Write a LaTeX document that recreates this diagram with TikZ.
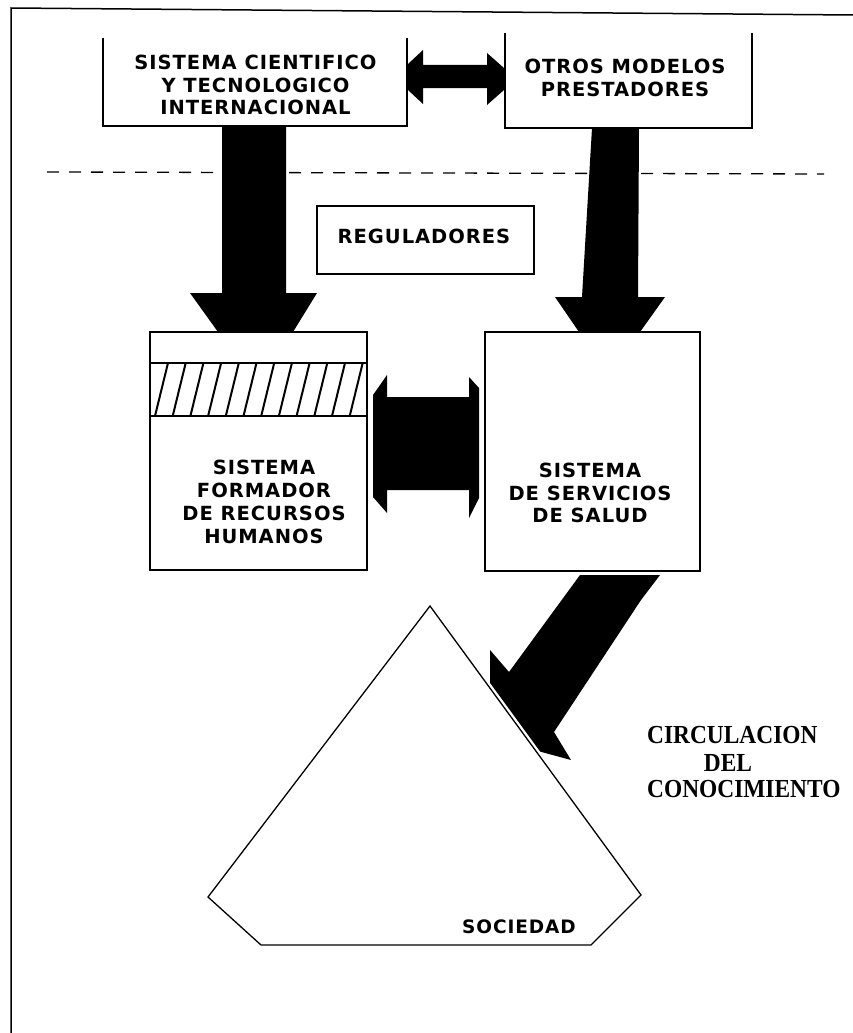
\documentclass[tikz,border=0pt]{standalone}
\usepackage{fontspec}
\newfontfamily\labfont[LetterSpace=5]{DejaVu Sans}
\newfontfamily\serfont{Liberation Serif}
\newcommand{\narrowtxt}[1]{\scalebox{0.9}[1]{#1}}
\begin{document}
\begin{tikzpicture}[x=1pt,y=-1pt,
  lab/.style={font=\labfont\bfseries\fontsize{19.5}{22.8}\selectfont, align=center, inner sep=0pt},
  circ/.style={font=\serfont\bfseries\fontsize{26}{28}\selectfont, inner sep=0pt},
  ln/.style={line width=1.5pt, line join=miter},
  blk/.style={fill=black, draw=none},
  boxarea/.style={inner sep=0pt, outer sep=0pt}]
\useasboundingbox (0,0) rectangle (853,1033);
% frame
\draw[ln] (11,1033) -- (11,8) -- (853,15);
% dashed line
\draw[line width=1.3pt, dash pattern=on 12pt off 10pt] (47,172) -- (824,174);
% box areas
\node[boxarea, minimum width=304pt, minimum height=88pt] (b1) at (255,82) {};
\node[boxarea, minimum width=247pt, minimum height=95pt] (b2) at (628.5,80.5) {};
\node[boxarea, minimum width=217pt, minimum height=68pt] (reg) at (425.5,240) {};
\node[boxarea, minimum width=217pt, minimum height=238pt] (b3) at (258.5,451) {};
\node[boxarea, minimum width=215pt, minimum height=239pt] (b4) at (592.5,451.5) {};
% boxes with open tops
\draw[ln] (b1.north west) -- (b1.south west) -- (b1.south east) -- (b1.north east);
\draw[ln] (b2.north west) -- (b2.south west) -- (b2.south east) -- (b2.north east);
\draw[ln] (reg.north west) rectangle (reg.south east);
\draw[ln] (b3.north west) rectangle (b3.south east);
\draw[ln] (b4.north west) rectangle (b4.south east);
% hatched band in b3
\draw[ln] (150,363) -- (367,363);
\draw[ln] (150,416) -- (367,416);
\begin{scope}
\clip (150,363) rectangle (367,416);
\foreach \k in {0,...,11} {
  \draw[line width=2pt] ({155+17.7*\k},416) -- ({168+17.7*\k},363);
}
\end{scope}
% texts
\node[lab] (t1) at (255.5,85) {SISTEMA CIENTIFICO\\Y TECNOLOGICO\\INTERNACIONAL};
\node[lab] (t2) at (625,78) {OTROS MODELOS\\PRESTADORES};
\node[lab] (treg) at (424,236) {REGULADORES};
\node[lab] (t3) at (264,502) {SISTEMA\\FORMADOR\\DE RECURSOS\\HUMANOS};
\node[lab] (t4) at (590,493) {SISTEMA\\DE SERVICIOS\\DE SALUD};
% top double arrow
\fill[blk] (408,64) -- (423,50) -- (423,65) -- (487,65) -- (487,53) -- (504,68) -- (504,90) -- (487,105) -- (487,88) -- (423,88) -- (423,104) -- (408,90) -- cycle;
% big arrow left
\fill[blk] (222,126) -- (286,126) -- (286,293) -- (317,293) -- (293,332) -- (218,332) -- (190,293) -- (222,293) -- cycle;
% big arrow right
\fill[blk] (592,128) -- (639,128) -- (638,297) -- (665,297) -- (640,332) -- (579,332) -- (555,297) -- (582,297) -- cycle;
% middle double arrow
\fill[blk] (373,395) -- (387,375) -- (387,397) -- (469,397) -- (469,377) -- (479,388) -- (479,498) -- (469,518) -- (469,490) -- (387,490) -- (387,513) -- (373,497) -- cycle;
% diagonal arrow
\fill[blk] (580,575) -- (660,575) -- (641,600) -- (554,732) -- (571,760) -- (490,738) -- (490,650) -- (509,672) -- cycle;
% pentagon (sociedad)
\coordinate (pA) at (430,606);
\coordinate (pB) at (641,895);
\coordinate (pC) at (591,945);
\coordinate (pD) at (261,945);
\coordinate (pE) at (208,897);
\draw[white, line width=6pt, line join=round] (pA) -- (pB) -- (pC) -- (pD) -- (pE) -- cycle;
\draw[line width=1.3pt, fill=white, line join=miter] (pA) -- (pB) -- (pC) -- (pD) -- (pE) -- cycle;
\node[lab, font=\labfont\bfseries\fontsize{18.5}{22}\selectfont] (soc) at (519,927) {SOCIEDAD};
% circulacion
\node[circ, anchor=west] (c1) at (647,735) {\narrowtxt{CIRCULACION}};
\node[circ] (c2) at (728,763) {\narrowtxt{DEL}};
\node[circ, anchor=west] (c3) at (647,789) {\narrowtxt{CONOCIMIENTO}};
\end{tikzpicture}
\end{document}
